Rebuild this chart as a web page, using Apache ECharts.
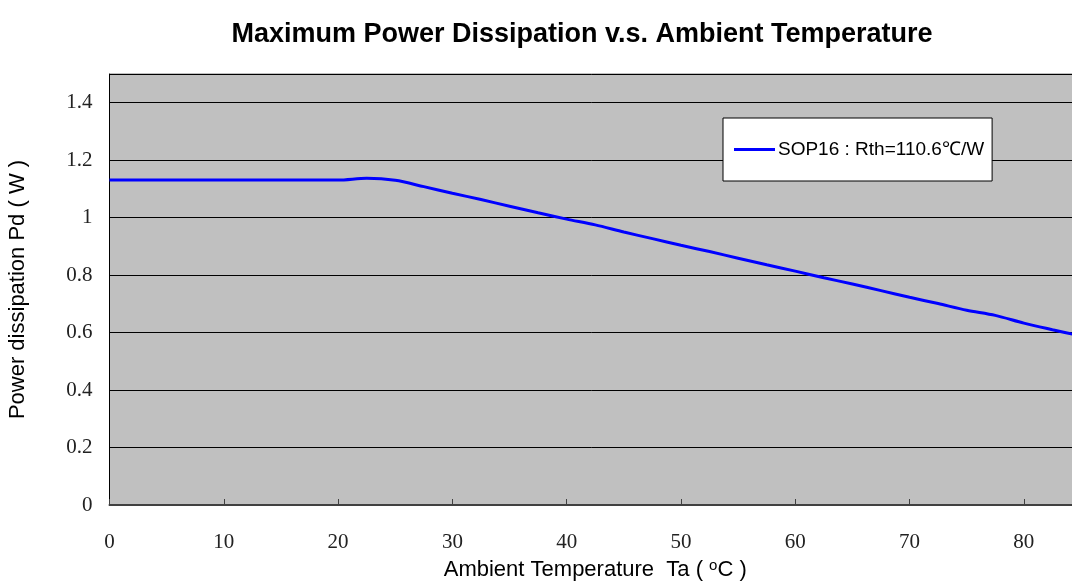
<!DOCTYPE html>
<html>
<head>
<meta charset="utf-8">
<script src="https://cdn.jsdelivr.net/npm/echarts@6/dist/echarts.min.js"></script>
<style>
html,body{margin:0;padding:0;background:#fff;}
#main{width:1072px;height:581px;}
</style>
</head>
<body>
<div id="main"></div>
<script>
// 数据：环境温度 (°C) 与最大功耗 (W)
var tempArr = [0, 5, 10, 15, 20, 22.5, 25, 27.5, 30, 32.5, 35, 37.5, 40, 42.5, 45, 47.5, 50, 52.5, 55, 57.5, 60, 62.5, 65, 67.5, 70, 72.5, 75, 77.5, 80, 82.5, 85];
var pdArr = [1.131, 1.131, 1.131, 1.131, 1.131, 1.137, 1.130, 1.108, 1.085, 1.063, 1.040, 1.017, 0.995, 0.975, 0.950, 0.927, 0.904, 0.882, 0.859, 0.836, 0.814, 0.791, 0.769, 0.746, 0.723, 0.701, 0.678, 0.660, 0.633, 0.610, 0.588];
var yTicks = [0, 0.2, 0.4, 0.6, 0.8, 1, 1.2, 1.4];
var xTicks = [0, 10, 20, 30, 40, 50, 60, 70, 80];
var seriesName = 'SOP16 : Rth=110.6\u2103/W';

var myChart = echarts.init(document.getElementById('main'));

var lineData = [];
tempArr.forEach(function(t, i){
    lineData.push([t, pdArr[i]]);
});

var option = {
    animation: false,
    title: {
        text: 'Maximum Power Dissipation v.s. Ambient Temperature',
        left: 577,
        top: 16,
        textAlign: 'center',
        textStyle: {
            fontFamily: 'Liberation Sans',
            fontWeight: 'bold',
            fontSize: 27,
            color: '#000'
        }
    },
    legend: {
        left: 723,
        top: 118,
        orient: 'vertical',
        backgroundColor: '#fff',
        borderColor: '#000',
        borderWidth: 1,
        borderRadius: 0,
        padding: [22, 8, 22, 11],
        itemWidth: 41,
        itemHeight: 3,
        itemGap: 0,
        icon: 'rect',
        textStyle: {
            fontFamily: 'Liberation Sans',
            fontSize: 19,
            color: '#000',
            padding: [0, 0, 0, -2]
        },
        data: [seriesName]
    },
    grid: {
        left: 109.5,
        width: 971.5,
        top: 74,
        bottom: 76,
        outerBoundsMode: 'none',
        containLabel: false,
        show: true,
        backgroundColor: '#c0c0c0',
        borderColor: '#808080',
        borderWidth: 1
    },
    xAxis: {
        type: 'value',
        min: 0,
        max: 85,
        interval: 10,
        name: 'Ambient Temperature  Ta ( {sup|o}C )',
        nameLocation: 'middle',
        nameGap: 51,
        nameTextStyle: {
            fontFamily: 'Liberation Sans',
            fontSize: 22,
            color: '#000',
            rich: {
                sup: {
                    fontFamily: 'Liberation Sans',
                    fontSize: 15,
                    verticalAlign: 'top',
                    padding: [0, 0, 9, 0]
                }
            }
        },
        axisLine: { show: true, lineStyle: { color: '#404040', width: 2 } },
        axisTick: { show: true, inside: true, length: 6, lineStyle: { color: '#404040', width: 1 } },
        splitLine: { show: false },
        axisLabel: {
            margin: 27,
            fontFamily: 'Liberation Serif',
            fontSize: 21,
            color: '#222',
            formatter: function(v){ return xTicks.indexOf(v) >= 0 ? String(v) : ''; }
        }
    },
    yAxis: {
        type: 'value',
        min: 0,
        max: 1.5,
        interval: 0.2,
        name: 'Power dissipation Pd ( W )',
        nameLocation: 'middle',
        nameGap: 81,
        nameTextStyle: {
            fontFamily: 'Liberation Sans',
            fontSize: 22,
            color: '#000'
        },
        axisLine: { show: true, lineStyle: { color: '#000', width: 1 } },
        axisTick: { show: false },
        splitLine: { show: true, lineStyle: { color: '#000', width: 1 } },
        axisLabel: {
            margin: 17,
            fontFamily: 'Liberation Serif',
            fontSize: 21,
            color: '#222',
            showMaxLabel: false,
            formatter: function(v){
                var r = Math.round(v * 10) / 10;
                return yTicks.indexOf(r) >= 0 ? String(r) : '';
            }
        }
    },
    color: ['#0000ff'],
    series: [{
        name: seriesName,
        type: 'line',
        data: lineData,
        smooth: 0.3,
        showSymbol: false,
        symbol: 'none',
        lineStyle: { color: '#0000ff', width: 3 }
    }]
};

myChart.setOption(option);
</script>
</body>
</html>
